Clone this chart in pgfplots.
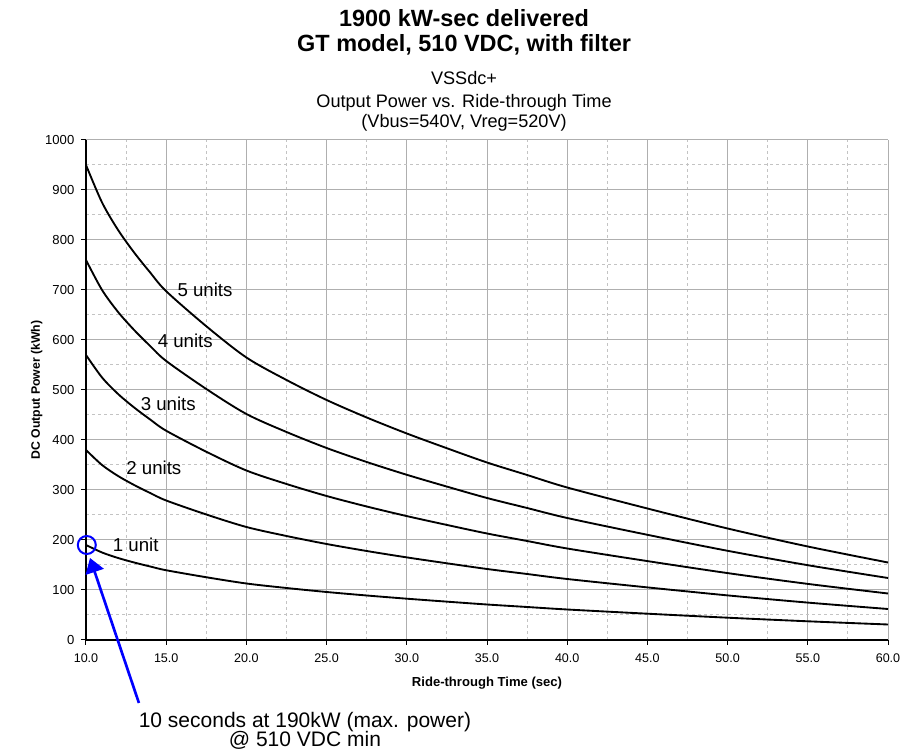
\documentclass[border=0pt]{standalone}
\usepackage{pgfplots}
\pgfplotsset{compat=1.18}
\usepackage{fontspec}
\setmainfont{Liberation Sans}
\usetikzlibrary{arrows.meta}

\definecolor{majgrid}{RGB}{175,175,175}
\definecolor{mingrid}{RGB}{195,195,195}

% 1 px of the reference = 0.75pt
\begin{document}
\begin{tikzpicture}
\useasboundingbox (-64.5pt,-84pt) rectangle (626.25pt,480pt);
\begin{axis}[
    at={(0,0)}, anchor=south west,
    scale only axis,
    width=601.5pt, height=375pt,
    xmin=10, xmax=60, ymin=0, ymax=1000,
    xtick distance=5, ytick distance=100,
    minor x tick num=1, minor y tick num=1,
    axis x line*=bottom, axis y line*=left,
    axis line style={-, black, line width=1.1pt},
    tick align=outside,
    major tick length=3.75pt, minor tick length=0pt,
    tick style={black, line width=0.75pt},
    grid=both,
    major grid style={majgrid, line width=0.75pt},
    minor grid style={mingrid, line width=0.75pt, dash pattern=on 2.25pt off 2.25pt},
    /pgf/number format/assume math mode=true,
    /pgf/number format/1000 sep={},
    xticklabel style={font=\fontsize{9.4}{11}\selectfont, yshift=-3pt,
        /pgf/number format/.cd, fixed, fixed zerofill, precision=1},
    yticklabel style={font=\fontsize{9.8}{11}\selectfont, xshift=-1.5pt},
    xlabel={Ride-through Time (sec)},
    ylabel={DC Output Power (kWh)},
    xlabel style={font=\fontsize{9.8}{11}\selectfont\bfseries,
        at={(axis description cs:0.5,0)}, anchor=base, yshift=-35pt},
    ylabel style={font=\fontsize{9.2}{11}\selectfont\bfseries,
        at={(axis description cs:-0.0574,0.5)}, anchor=base},
    clip=false,
]
% 1 unit
\addplot[black, line width=1.4pt, smooth] coordinates {
    (10,190) (11,175) (12,164) (13,155) (14,147) (15,139.5) (17.5,125.5)
    (20,113) (22.5,104) (25,96) (27.5,89) (30,82.6) (32.5,76.7) (35,71)
    (37.5,66) (40,61) (45,52.6) (50,44.6) (55,37.4) (60,31)
};
% 2 units
\addplot[black, line width=1.4pt, smooth] coordinates {
    (10,380) (11,350) (12,328) (13,310) (14,294) (15,279) (17.5,251)
    (20,226) (22.5,208) (25,192) (27.5,178) (30,165.2) (32.5,153.4) (35,142)
    (37.5,132) (40,122) (45,105.2) (50,89.2) (55,74.8) (60,62)
};
% 3 units
\addplot[black, line width=1.4pt, smooth] coordinates {
    (10,570) (11,525) (12,492) (13,465) (14,441) (15,418.5) (17.5,376.5)
    (20,339) (22.5,312) (25,288) (27.5,267) (30,247.8) (32.5,230.1) (35,213)
    (37.5,198) (40,183) (45,157.8) (50,133.8) (55,112.2) (60,93)
};
% 4 units
\addplot[black, line width=1.4pt, smooth] coordinates {
    (10,760) (11,700) (12,656) (13,620) (14,588) (15,558) (17.5,502)
    (20,452) (22.5,416) (25,384) (27.5,356) (30,330.4) (32.5,306.8) (35,284)
    (37.5,264) (40,244) (45,210.4) (50,178.4) (55,149.6) (60,124)
};
% 5 units
\addplot[black, line width=1.4pt, smooth] coordinates {
    (10,950) (11,875) (12,820) (13,775) (14,735) (15,697.5) (17.5,627.5)
    (20,565) (22.5,520) (25,480) (27.5,445) (30,413) (32.5,383.5) (35,355)
    (37.5,330) (40,305) (45,263) (50,223) (55,187) (60,155)
};

% curve labels
\node[font=\fontsize{14}{16}\selectfont] at (axis cs:17.42,700) {5 units};
\node[font=\fontsize{14}{16}\selectfont] at (axis cs:16.19,599) {4 units};
\node[font=\fontsize{14}{16}\selectfont] at (axis cs:15.13,472) {3 units};
\node[font=\fontsize{14}{16}\selectfont] at (axis cs:14.23,345) {2 units};
\node[font=\fontsize{14}{16}\selectfont] at (axis cs:13.10,190) {1 unit};

% annotation: circle and arrow
\addplot[blue, only marks, mark=o, mark size=6.75pt,
    mark options={line width=1.5pt}] coordinates {(10.05,190)};
\addplot[blue, line width=2pt, -{Triangle[length=11pt,width=14pt]}]
    coordinates {(13.30,-126) (10.25,164)};
\node[font=\fontsize{15.75}{18}\selectfont, anchor=base] at (axis cs:23.65,-174.7)
    {10 seconds at 190kW (max. power)};
\node[font=\fontsize{15.75}{18}\selectfont, anchor=base] at (axis cs:23.65,-214)
    {@ 510 VDC min};

% titles
\node[font=\fontsize{17.6}{20}\selectfont\bfseries, anchor=base] at (axis cs:33.57,1226)
    {1900 kW-sec delivered};
\node[font=\fontsize{17.6}{20}\selectfont\bfseries, anchor=base] at (axis cs:33.57,1176)
    {GT model, 510 VDC, with filter};
\node[font=\fontsize{13.6}{16}\selectfont, anchor=base] at (axis cs:33.57,1110)
    {VSSdc+};
\node[font=\fontsize{13.6}{16}\selectfont, anchor=base] at (axis cs:33.57,1064)
    {Output Power vs. Ride-through Time};
\node[font=\fontsize{13.6}{16}\selectfont, anchor=base] at (axis cs:33.57,1024)
    {(Vbus=540V, Vreg=520V)};
\end{axis}
\end{tikzpicture}
\end{document}
